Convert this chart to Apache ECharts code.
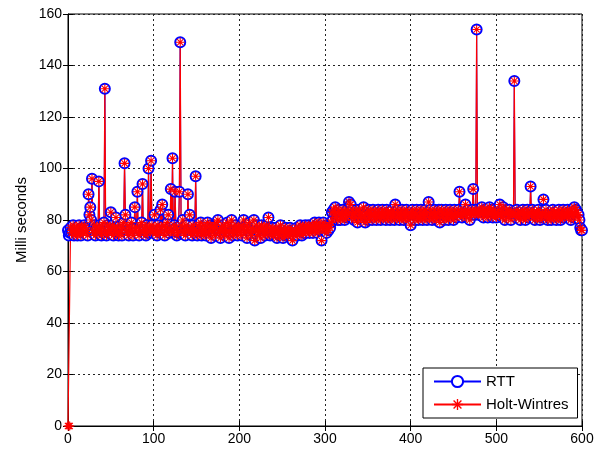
<!DOCTYPE html>
<html style="height: 100%">
<head>
    <meta charset="utf-8">
    <script src="https://cdn.jsdelivr.net/npm/echarts@6/dist/echarts.min.js"></script>
</head>
<body style="height: 100%; margin: 0; background: #fff">
    <div id="main" style="width:604px;height:450px;"></div>
    <script type="text/javascript">
        // one sample per x unit, x = 0 .. 600
        var sampleStep = 1;

        // RTT in ms
        var rttValues = [
            76,74,75,77,75,76,78,74,76,75,77,74,76,78,75,74,77,76,75,78,
            77,75,76,74,90,82,85,80,96,76,75,78,74,77,76,75,95,78,76,74,
            77,75,79,131,76,74,78,75,77,76,83,75,78,74,77,76,81,75,77,74,
            75,78,76,74,77,79,102,82,76,75,78,74,77,76,79,75,74,77,85,76,
            77,91,75,74,78,76,79,94,75,77,76,74,78,75,100,77,76,103,78,75,
            76,82,75,77,74,78,76,75,84,77,86,75,78,74,77,76,79,82,75,77,
            92,76,104,75,78,91,77,74,76,75,91,149,78,76,80,75,77,74,78,76,
            90,76,82,75,77,74,78,76,75,97,76,74,78,75,77,79,74,76,75,78,
            76,74,77,79,75,76,78,73,77,75,76,78,74,77,79,80,75,76,73,77,
            75,78,76,74,77,75,79,76,73,78,75,80,76,74,77,75,78,76,74,77,
            76,75,78,74,77,80,76,75,78,73,77,76,79,75,74,77,76,80,72,76,
            78,74,76,75,77,73,78,76,75,77,74,76,78,75,81,77,74,76,75,77,
            74,76,75,77,73,76,75,74,78,76,75,73,76,74,77,75,76,74,75,77,
            74,76,72,75,74,76,75,77,74,76,75,78,76,74,77,75,76,78,75,77,
            76,78,75,77,76,78,75,77,79,76,78,75,77,79,76,78,72,77,79,76,
            76,78,75,77,76,78,77,79,83,80,84,82,85,81,83,80,84,82,80,83,
            81,84,82,80,83,81,84,82,87,83,86,81,84,82,80,83,81,84,79,82,
            84,81,83,80,82,85,81,79,83,82,80,84,81,83,82,80,84,82,81,83,
            80,82,84,81,83,80,82,84,81,83,82,80,84,81,83,82,80,83,81,84,
            82,80,86,83,81,84,82,80,83,81,84,82,80,83,81,84,82,80,83,81,
            78,82,84,81,83,80,82,84,81,80,83,81,84,82,80,83,81,84,82,80,
            83,87,81,84,82,80,83,81,84,82,80,83,81,84,79,82,84,81,83,80,
            82,84,81,83,80,82,84,81,83,82,80,84,82,81,83,82,84,91,82,83,
            81,84,82,83,86,81,83,84,82,80,83,82,84,92,83,82,84,154,83,82,
            84,83,82,85,83,81,84,83,82,84,81,83,85,82,84,83,81,84,82,83,
            81,83,82,84,86,82,83,81,85,83,80,82,84,83,81,84,82,80,83,82,
            83,134,82,81,84,82,83,81,80,83,82,84,81,83,80,82,84,81,83,82,
            93,82,84,81,83,80,82,83,81,84,82,80,83,81,82,88,83,81,84,82,
            80,82,81,83,80,82,84,81,83,82,80,83,81,84,82,80,83,81,84,82,
            81,83,82,84,81,83,82,80,84,83,81,85,82,84,83,81,82,80,77,76,
            76
        ];

        // Holt-Wintres prediction, starts at 0 then sits on the RTT
        var hwValues = [
            0,0,0,77,75,76,78,74,76,75,77,74,76,78,75,74,77,76,75,78,
            77,75,76,74,90,82,85,80,96,76,75,78,74,77,76,75,95,78,76,74,
            77,75,79,131,76,74,78,75,77,76,83,75,78,74,77,76,81,75,77,74,
            75,78,76,74,77,79,102,82,76,75,78,74,77,76,79,75,74,77,85,76,
            77,91,75,74,78,76,79,94,75,77,76,74,78,75,100,77,76,103,78,75,
            76,82,75,77,74,78,76,75,84,77,86,75,78,74,77,76,79,82,75,77,
            92,76,104,75,78,91,77,74,76,75,91,149,78,76,80,75,77,74,78,76,
            90,76,82,75,77,74,78,76,75,97,76,74,78,75,77,79,74,76,75,78,
            76,74,77,79,75,76,78,73,77,75,76,78,74,77,79,80,75,76,73,77,
            75,78,76,74,77,75,79,76,73,78,75,80,76,74,77,75,78,76,74,77,
            76,75,78,74,77,80,76,75,78,73,77,76,79,75,74,77,76,80,72,76,
            78,74,76,75,77,73,78,76,75,77,74,76,78,75,81,77,74,76,75,77,
            74,76,75,77,73,76,75,74,78,76,75,73,76,74,77,75,76,74,75,77,
            74,76,72,75,74,76,75,77,74,76,75,78,76,74,77,75,76,78,75,77,
            76,78,75,77,76,78,75,77,79,76,78,75,77,79,76,78,72,77,79,76,
            76,78,75,77,76,78,77,79,83,80,84,82,85,81,83,80,84,82,80,83,
            81,84,82,80,83,81,84,82,87,83,86,81,84,82,80,83,81,84,79,82,
            84,81,83,80,82,85,81,79,83,82,80,84,81,83,82,80,84,82,81,83,
            80,82,84,81,83,80,82,84,81,83,82,80,84,81,83,82,80,83,81,84,
            82,80,86,83,81,84,82,80,83,81,84,82,80,83,81,84,82,80,83,81,
            78,82,84,81,83,80,82,84,81,80,83,81,84,82,80,83,81,84,82,80,
            83,87,81,84,82,80,83,81,84,82,80,83,81,84,79,82,84,81,83,80,
            82,84,81,83,80,82,84,81,83,82,80,84,82,81,83,82,84,91,82,83,
            81,84,82,83,86,81,83,84,82,80,83,82,84,92,83,82,84,154,83,82,
            84,83,82,85,83,81,84,83,82,84,81,83,85,82,84,83,81,84,82,83,
            81,83,82,84,86,82,83,81,85,83,80,82,84,83,81,84,82,80,83,82,
            83,134,82,81,84,82,83,81,80,83,82,84,81,83,80,82,84,81,83,82,
            93,82,84,81,83,80,82,83,81,84,82,80,83,81,82,88,83,81,84,82,
            80,82,81,83,80,82,84,81,83,82,80,83,81,84,82,80,83,81,84,82,
            81,83,82,84,81,83,82,80,84,83,81,85,82,84,83,81,82,80,77,76,
            76
        ];

        var seriesNames = ['RTT', 'Holt-Wintres'];

        function toPairs(values) {
            return values.map(function (v, i) { return [i * sampleStep, v]; });
        }

        // matlab style '*' marker
        var asterisk = 'path://M-5,-0.6H5V0.6H-5Z M-0.6,-5H0.6V5H-0.6Z ' +
            'M-3.92,-3.08L-3.08,-3.92L3.92,3.08L3.08,3.92Z ' +
            'M-3.92,3.08L3.08,-3.92L3.92,-3.08L-3.08,3.92Z';

        var font = 'Liberation Sans';
        var gridLine = { show: true, lineStyle: { color: '#222', type: [2, 3], width: 1 } };
        var tick = { show: true, inside: true, length: 5, lineStyle: { color: '#000' } };

        var myChart = echarts.init(document.getElementById('main'));
        var option = {
            animation: false,
            backgroundColor: '#fff',
            grid: {
                left: 68, right: 22, top: 14, bottom: 24,
                show: true, borderColor: '#000', borderWidth: 1
            },
            legend: {
                left: 423, top: 368,
                orient: 'vertical',
                backgroundColor: '#fff',
                borderColor: '#000', borderWidth: 1, borderRadius: 0,
                padding: [6, 9, 6, 10],
                itemWidth: 47, itemHeight: 14, itemGap: 8,
                textStyle: { fontFamily: font, fontSize: 15, lineHeight: 15, color: '#000' },
                data: seriesNames
            },
            xAxis: [{
                type: 'value', min: 0, max: 600, interval: 100,
                axisLine: { show: true, onZero: false, lineStyle: { color: '#000' } },
                axisTick: tick,
                axisLabel: { margin: 6, color: '#000', fontFamily: font, fontSize: 14 },
                splitLine: gridLine
            }, {
                type: 'value', position: 'top', min: 0, max: 600, interval: 100,
                axisLine: { show: false }, axisTick: tick,
                axisLabel: { show: false }, splitLine: { show: false }
            }],
            yAxis: [{
                type: 'value', min: 0, max: 160, interval: 20,
                name: 'Milli seconds', nameLocation: 'middle', nameGap: 39,
                nameMoveOverlap: false,
                nameTextStyle: { fontFamily: font, fontSize: 15, color: '#000' },
                axisLine: { show: true, lineStyle: { color: '#000' } },
                axisTick: tick,
                axisLabel: { margin: 6, color: '#000', fontFamily: font, fontSize: 14 },
                splitLine: gridLine
            }, {
                type: 'value', position: 'right', min: 0, max: 160, interval: 20,
                axisLine: { show: false }, axisTick: tick,
                axisLabel: { show: false }, splitLine: { show: false }
            }],
            series: [{
                name: seriesNames[0],
                type: 'line',
                data: toPairs(rttValues),
                symbol: 'emptyCircle', symbolSize: 10, showSymbol: true,
                itemStyle: { color: '#0000ff', borderWidth: 1 },
                lineStyle: { color: '#0000ff', width: 1 }
            }, {
                name: seriesNames[1],
                type: 'line',
                data: toPairs(hwValues),
                symbol: asterisk, symbolSize: 9, showSymbol: true,
                itemStyle: { color: '#ff0000' },
                lineStyle: { color: '#ff0000', width: 1.2 }
            }]
        };
        myChart.setOption(option);
    </script>
</body>
</html>
